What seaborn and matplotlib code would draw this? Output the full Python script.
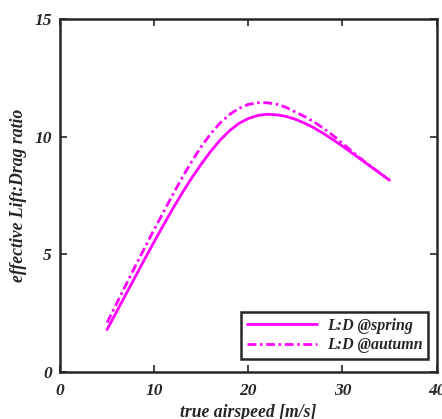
import matplotlib
matplotlib.use("Agg")
import matplotlib.pyplot as plt
import seaborn as sns
import pandas as pd

# true airspeed [m/s]
airspeed = list(range(5, 36))

# effective lift-to-drag ratio, spring configuration
ld_spring = [1.8, 2.55, 3.3, 4.05, 4.8, 5.53, 6.25, 6.95, 7.62, 8.25, 8.83,
             9.37, 9.85, 10.25, 10.56, 10.77, 10.9, 10.95, 10.93, 10.86, 10.74,
             10.57, 10.37, 10.13, 9.87, 9.6, 9.31, 9.02, 8.73, 8.44, 8.15]

# effective lift-to-drag ratio, autumn configuration
ld_autumn = [2.1, 2.9, 3.7, 4.5, 5.28, 6.05, 6.8, 7.55, 8.27, 8.95, 9.57,
             10.12, 10.58, 10.94, 11.2, 11.37, 11.44, 11.44, 11.38, 11.25, 11.05,
             10.85, 10.62, 10.35, 10.05, 9.72, 9.38, 9.05, 8.75, 8.45, 8.15]

labels = ["L:D @spring", "L:D @autumn"]

sns.set_style("ticks")
plt.rcParams["font.family"] = ["Liberation Serif", "DejaVu Serif"]
plt.rcParams["font.weight"] = "bold"
plt.rcParams["font.style"] = "italic"

fig = plt.figure(figsize=(4.42, 4.19), dpi=100)
ax = fig.add_axes([0.1357, 0.1122, 0.852, 0.8425])

df_spring = pd.DataFrame({"v": airspeed, "ld": ld_spring})
df_autumn = pd.DataFrame({"v": airspeed, "ld": ld_autumn})

sns.lineplot(data=df_spring, x="v", y="ld", ax=ax, color="#ff00ff",
             linewidth=2.0, label=labels[0])
sns.lineplot(data=df_autumn, x="v", y="ld", ax=ax, color="#ff00ff",
             linewidth=2.0, label=labels[1])
ax.lines[1].set_dashes((3.2, 1.3, 0.9, 1.3))

ax.set_xlim(0, 40)
ax.set_ylim(0, 15)
ax.set_xticks([0, 10, 20, 30, 40])
ax.set_yticks([0, 5, 10, 15])

ax.set_xlabel("true airspeed [m/s]", fontsize=12.7, fontweight="bold",
              fontstyle="italic", labelpad=3.5)
ax.set_ylabel("effective Lift:Drag ratio", fontsize=12.7, fontweight="bold",
              fontstyle="italic", labelpad=5)

ax.tick_params(direction="in", top=True, right=True, length=5, width=1.2,
               labelsize=12.5, colors="#262626")
ax.tick_params(axis="x", pad=8)
ax.tick_params(axis="y", pad=6)
for lab in ax.get_xticklabels() + ax.get_yticklabels():
    lab.set_fontweight("bold")
    lab.set_fontstyle("italic")
    lab.set_color("#262626")

for sp in ax.spines.values():
    sp.set_visible(True)
    sp.set_linewidth(1.8)
    sp.set_color("#262626")

leg = ax.legend(loc="lower right", bbox_to_anchor=(0.977, 0.037),
                borderaxespad=0, frameon=True, fancybox=False,
                edgecolor="#262626", handlelength=4.4,
                borderpad=0.35, labelspacing=0.22, handletextpad=0.6,
                prop={"family": "Liberation Serif", "weight": "bold",
                      "style": "italic", "size": 11.5})
leg.get_frame().set_linewidth(1.8)
leg.get_frame().set_alpha(1)

fig.savefig("out.png", dpi=100)
